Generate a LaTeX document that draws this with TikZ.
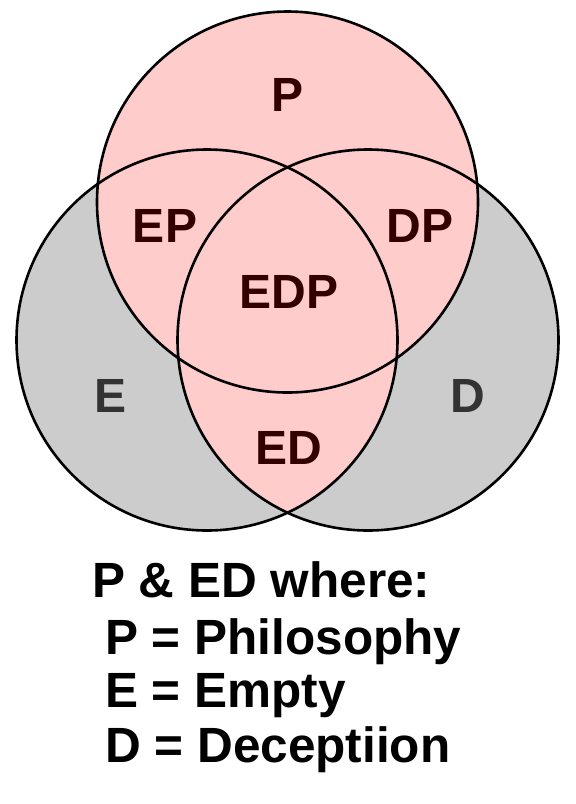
\documentclass[tikz,border=0pt]{standalone}
\usepackage{fontspec}
\setmainfont{Liberation Sans}
\definecolor{pinkfill}{RGB}{255,204,204}
\definecolor{grayfill}{RGB}{204,204,204}
\definecolor{darkred}{RGB}{51,0,0}
\definecolor{darkgray}{RGB}{51,51,51}
\begin{document}
\begin{tikzpicture}[x=1pt,y=-1pt,
  ring/.style={draw=black,line width=2.6pt},
  lbl/.style={inner sep=0pt,font=\fontsize{48}{48}\selectfont\bfseries,text=darkred},
  glbl/.style={lbl,text=darkgray},
  legend/.style={inner sep=0pt,anchor=base west,font=\fontsize{49.5}{49.5}\selectfont\bfseries,text=black}]
\useasboundingbox (0,0) rectangle (576,804);
\fill[white] (0,0) rectangle (576,804);
\coordinate (cP) at (287.5,202);
\coordinate (cE) at (207,340);
\coordinate (cD) at (368,340);
% fills
\fill[grayfill] (cE) circle (190.5);
\fill[grayfill] (cD) circle (190.5);
\fill[pinkfill] (cP) circle (190.5);
\begin{scope}
  \clip (cE) circle (190.5);
  \fill[pinkfill] (cD) circle (190.5);
\end{scope}
% outlines
\draw[ring] (cP) circle (190.5);
\draw[ring] (cE) circle (190.5);
\draw[ring] (cD) circle (190.5);
% labels
\node[lbl] (lP) at (288,95) {P};
\node[lbl] (lEP) at (165,226) {EP};
\node[lbl] (lDP) at (420,226) {DP};
\node[lbl] (lEDP) at (289,292) {EDP};
\node[glbl] (lE) at (111,396) {E};
\node[glbl] (lD) at (468,396) {D};
\node[lbl] (lED) at (289,448) {ED};
% legend
\node[legend] (t1) at (92,597) {P \& ED where:};
\node[legend] (t2) at (105,654) {P = Philosophy};
\node[legend] (t3) at (105,707) {E = Empty};
\node[legend] (t4) at (105,762) {D = Deceptiion};
\end{tikzpicture}
\end{document}
